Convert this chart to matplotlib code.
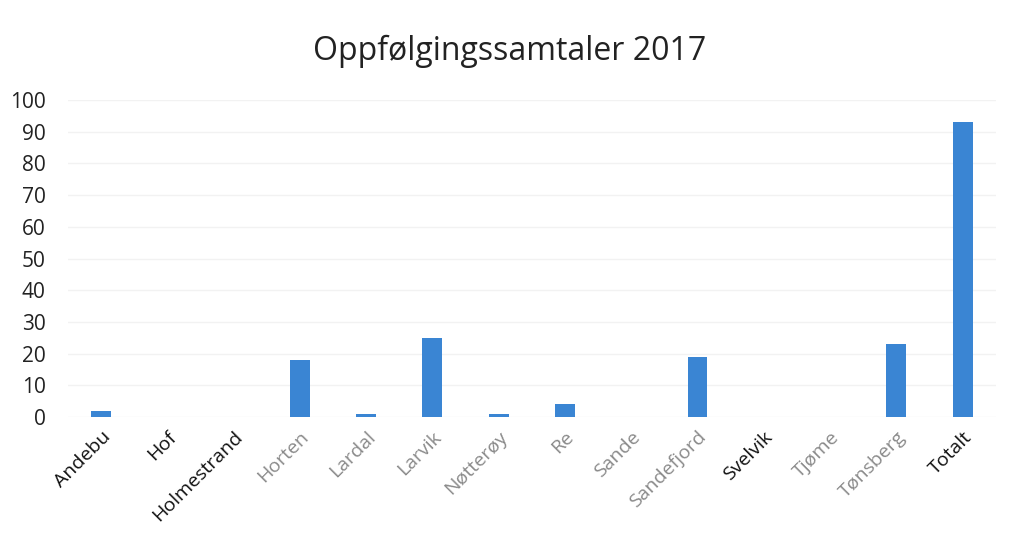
import matplotlib
matplotlib.use("Agg")
import matplotlib.pyplot as plt
import numpy as np

plt.rcParams['font.family'] = ['Open Sans', 'DejaVu Sans']

kommuner = ["Andebu", "Hof", "Holmestrand", "Horten", "Lardal", "Larvik", "Nøtterøy",
            "Re", "Sande", "Sandefjord", "Svelvik", "Tjøme", "Tønsberg", "Totalt"]
samtaler = [2, 0, 0, 18, 1, 25, 1, 4, 0, 19, 0, 0, 23, 93]
# the scanned labels come out partly faded
label_farge = ["#111111", "#111111", "#111111", "#8a8a8a", "#8a8a8a", "#8a8a8a", "#8a8a8a",
               "#8a8a8a", "#8a8a8a", "#8a8a8a", "#111111", "#8a8a8a", "#8a8a8a", "#111111"]

fig = plt.figure(figsize=(10.14, 5.38), dpi=100)
ax = fig.add_axes([0.067, 0.225, 0.915, 0.589])

x = np.arange(len(kommuner))
ax.bar(x, samtaler, width=0.3, color="#3a85d3", zorder=3)

ax.set_ylim(0, 100)
ax.set_xlim(-0.5, len(kommuner) - 0.5)
ax.set_yticks(range(0, 101, 10))
ax.yaxis.grid(True, color="#f2f2f2", linewidth=1, zorder=0)
for s in ax.spines.values():
    s.set_visible(False)
ax.tick_params(axis="both", length=0, colors="#222222")
ax.tick_params(axis="y", labelsize=15, pad=16)
ax.tick_params(axis="x", labelsize=14, pad=8)

ax.set_xticks(x)
ax.set_xticklabels(kommuner, rotation=45, ha="right", rotation_mode="anchor")
for lab, c in zip(ax.get_xticklabels(), label_farge):
    lab.set_color(c)

fig.text(0.503, 0.905, "Oppfølgingssamtaler 2017", ha="center", va="center",
         fontsize=23, color="#222222")

fig.savefig("out.png", dpi=100)
